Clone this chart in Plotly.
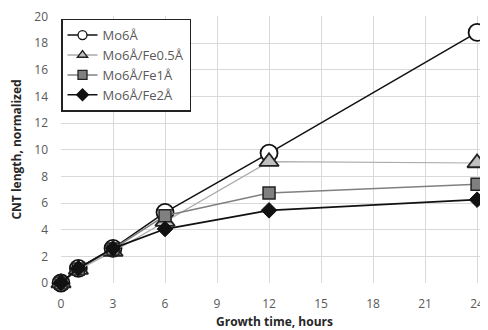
import plotly.graph_objects as go

hours = [0, 1, 3, 6, 12, 24]
mo6 = [0, 1.1, 2.6, 5.3, 9.75, 18.8]
mo6_fe05 = [0, 1.0, 2.35, 4.6, 9.1, 9.0]
mo6_fe1 = [0, 1.05, 2.55, 5.05, 6.75, 7.4]
mo6_fe2 = [0, 1.1, 2.6, 4.05, 5.45, 6.25]

x_ticks = [0, 3, 6, 9, 12, 15, 18, 21, 24]
y_ticks = [0, 2, 4, 6, 8, 10, 12, 14, 16, 18, 20]

series = [
    ("Mo6Å", mo6,
     dict(color="#111111", width=1.5),
     dict(symbol="circle", color="white", line=dict(color="#111111", width=1.8)), 17),
    ("Mo6Å/Fe0.5Å", mo6_fe05,
     dict(color="#aaaaaa", width=1.2),
     dict(symbol="triangle-up", color="#bfbfbf", line=dict(color="#222222", width=1.8)), 17),
    ("Mo6Å/Fe1Å", mo6_fe1,
     dict(color="#808080", width=1.5),
     dict(symbol="square", color="#808080", line=dict(color="#222222", width=1.5)), 12),
    ("Mo6Å/Fe2Å", mo6_fe2,
     dict(color="#111111", width=1.8),
     dict(symbol="diamond", color="#111111", line=dict(color="#111111", width=1)), 12),
]

fig = go.Figure()
for name, ys, line, marker, size in series:
    fig.add_trace(go.Scatter(x=hours, y=ys, name=name, mode="lines+markers",
                             line=line, marker=dict(size=size, **marker),
                             showlegend=False, cliponaxis=False))
for name, ys, line, marker, size in series:
    lm = dict(marker)
    lm["line"] = dict(marker["line"], width=1.3)
    fig.add_trace(go.Scatter(x=[None], y=[None], name=name, mode="lines+markers",
                             line=dict(line, width=1.5), marker=dict(size=9, **lm),
                             showlegend=True))

fig.update_layout(
    width=480, height=322,
    margin=dict(l=53, r=0, t=8, b=47, autoexpand=False),
    paper_bgcolor="white", plot_bgcolor="white",
    font=dict(family="Open Sans, Liberation Sans, sans-serif", color="#595959", size=12),
    showlegend=True,
    legend=dict(x=0.0, y=0.99, xanchor="left", yanchor="top",
                bgcolor="white", bordercolor="#222222", borderwidth=1.5,
                font=dict(size=13, color="#595959"),
                tracegroupgap=0, itemwidth=30),
    xaxis=dict(range=[0, 24.63], tickvals=x_ticks, ticktext=[str(v) for v in x_ticks],
               showgrid=True, gridcolor="#d9d9d9", gridwidth=1, zeroline=False,
               showline=False, ticks="outside", ticklen=6, tickcolor="rgba(0,0,0,0)",
               automargin=False, ticklabelstandoff=4,
               ticklabeloverflow="allow",
               tickfont=dict(size=12, color="#595959"),
               title=dict(text="<b>Growth time, hours</b>", standoff=6,
                          font=dict(size=12, color="#262626"))),
    yaxis=dict(range=[-0.001, 20.03], tickvals=y_ticks, ticktext=[str(v) for v in y_ticks],
               showgrid=True, gridcolor="#d9d9d9", gridwidth=1, zeroline=False,
               showline=False, ticks="", automargin=False, ticklabelstandoff=12,
               ticklabeloverflow="allow",
               tickfont=dict(size=12, color="#595959"),
               title=dict(text="<b>CNT length, normalized</b>", standoff=14,
                          font=dict(size=12, color="#262626"))),
)

fig.write_html("out.html")
